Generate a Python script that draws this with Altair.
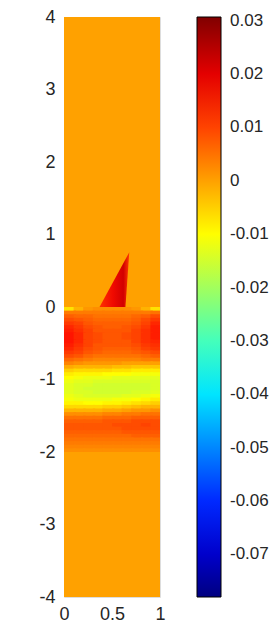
import altair as alt
import pandas as pd

# ---- data ----
# field values (units of 1e-3) on a 10-column grid (x = 0..1, step 0.1),
# rows from y = 0 down to y = -2 (step 0.05)
field_rows = [
    [-7, -2, 1, 2, 2, 2, 2, 1, -2, -7],
    [4, 4, 4, 4, 4, 4, 4, 4, 4, 5],
    [7, 6, 6, 5, 5, 5, 5, 6, 7, 9],
    [9, 8, 7, 6, 6, 6, 6, 7, 9, 11],
    [11, 10, 8, 7, 7, 7, 7, 8, 10, 13],
    [13, 11, 9, 8, 7, 7, 8, 9, 11, 14],
    [14, 12, 10, 8, 8, 8, 8, 10, 12, 14],
    [15, 13, 10, 9, 8, 8, 9, 10, 12, 14],
    [15, 13, 10, 9, 8, 8, 9, 10, 12, 14],
    [15, 13, 10, 9, 8, 8, 8, 10, 12, 13],
    [14, 12, 10, 8, 8, 8, 8, 9, 11, 12],
    [13, 11, 9, 8, 7, 7, 7, 8, 10, 11],
    [11, 10, 8, 7, 6, 6, 6, 7, 8, 9],
    [9, 8, 6, 5, 5, 5, 5, 5, 6, 7],
    [6, 5, 4, 3, 3, 3, 3, 3, 4, 4],
    [3, 2, 1, 1, 1, 1, 0, 0, 0, 0],
    [-1, -2, -2, -2, -2, -3, -3, -4, -4, -4],
    [-5, -6, -6, -6, -6, -7, -7, -8, -8, -8],
    [-8, -9, -9, -9, -10, -10, -10, -11, -11, -11],
    [-10, -11, -12, -12, -12, -13, -13, -13, -13, -13],
    [-12, -13, -13, -14, -14, -14, -14, -14, -14, -14],
    [-13, -14, -14, -15, -15, -15, -15, -15, -15, -14],
    [-13, -14, -15, -15, -15, -15, -15, -15, -15, -14],
    [-13, -14, -14, -15, -15, -15, -15, -14, -14, -13],
    [-12, -13, -14, -14, -14, -14, -13, -13, -12, -11],
    [-11, -12, -12, -12, -12, -11, -11, -10, -9, -8],
    [-9, -9, -10, -10, -9, -9, -8, -7, -6, -5],
    [-6, -6, -6, -6, -5, -5, -4, -3, -2, -2],
    [-2, -2, -2, -2, -1, -1, 0, 1, 1, 2],
    [2, 2, 2, 2, 3, 3, 4, 4, 5, 5],
    [5, 5, 5, 5, 6, 6, 6, 7, 7, 7],
    [7, 7, 7, 7, 8, 8, 8, 9, 9, 9],
    [8, 8, 8, 8, 8, 9, 9, 9, 10, 9],
    [8, 8, 8, 8, 8, 8, 9, 9, 9, 9],
    [7, 7, 7, 7, 7, 7, 8, 8, 8, 8],
    [6, 6, 6, 6, 6, 6, 6, 7, 7, 7],
    [5, 5, 5, 5, 5, 5, 5, 5, 5, 5],
    [4, 4, 4, 4, 4, 4, 4, 4, 4, 4],
    [3, 3, 3, 3, 3, 3, 3, 3, 3, 3],
    [2, 2, 2, 2, 2, 2, 2, 2, 2, 2],
]
background_value = 0.0

# triangular spike above y = 0
spike_y = [0.0, 0.755]
spike_left = [0.37, 0.68]
spike_right = [0.64, 0.68]

# colour bar
cbar_min = -0.078
cbar_max = 0.0307
cbar_ticks = [0.03, 0.02, 0.01, 0.0, -0.01, -0.02, -0.03, -0.04, -0.05, -0.06, -0.07]
y_ticks = [4, 3, 2, 1, 0, -1, -2, -3, -4]
x_ticks = [0, 0.5, 1]

jet_colors = ["#000080", "#0000ff", "#00ffff", "#ffff00", "#ff0000", "#800000"]
jet_pos = [0.0, 0.125, 0.375, 0.625, 0.875, 1.0]

# ---- build tables ----
ncol = len(field_rows[0])
nrow = len(field_rows)
dx = 1.0 / ncol
dy = 2.0 / nrow
ov = 0.25  # overlap fraction so neighbouring cells leave no seams
cells = []
for i, row in enumerate(field_rows):
    for j, v in enumerate(row):
        x2 = min(1.0, (j + 1 + ov) * dx)
        y2 = max(-2.0, -(i + 1 + ov) * dy)
        cells.append(dict(x=j * dx, x2=x2, y=-i * dy, y2=y2, v=v / 1000.0))
cells_df = pd.DataFrame(cells)
bg_df = pd.DataFrame([dict(x=0.0, x2=1.0, y=4.0, y2=-4.0, v=background_value)])
spike_df = pd.DataFrame(dict(sy=spike_y, sl=spike_left, sr=spike_right))

domain = [cbar_min + p * (cbar_max - cbar_min) for p in jet_pos]
cscale = alt.Scale(domain=domain, range=jet_colors, interpolate="rgb", clamp=True)

FONT = "Liberation Sans"
TXT = "#262626"
PLOT_H = 580

xenc = alt.X("x:Q", scale=alt.Scale(domain=[0, 1], nice=False, zero=False),
             axis=alt.Axis(values=x_ticks, labelExpr="datum.value + ''", title=None,
                           ticks=False, domain=False, grid=False, labelPadding=8,
                           labelFontSize=18, labelColor=TXT, labelFont=FONT,
                           labelFlush=False))
yenc = alt.Y("y:Q", scale=alt.Scale(domain=[-4, 4], nice=False, zero=False),
             axis=alt.Axis(values=y_ticks, labelExpr="datum.value + ''", title=None,
                           ticks=False, domain=False, grid=False, labelPadding=9,
                           labelFontSize=18, labelColor=TXT, labelFont=FONT))

legend = alt.Legend(type="gradient", title=None, values=cbar_ticks,
                    labelExpr="datum.value + ''",
                    gradientLength=PLOT_H, gradientThickness=24,
                    gradientStrokeColor="black", gradientStrokeWidth=1,
                    labelFontSize=17, labelColor=TXT, labelFont=FONT,
                    labelOffset=9, labelOverlap=False, offset=37, padding=0,
                    direction="vertical", orient="right")

bg = alt.Chart(bg_df).mark_rect(strokeWidth=0).encode(
    x=xenc, x2="x2:Q", y=yenc, y2="y2:Q",
    color=alt.Color("v:Q", scale=cscale, legend=legend),
)

cells_layer = alt.Chart(cells_df).mark_rect(strokeWidth=0).encode(
    x="x:Q", x2="x2:Q", y="y:Q", y2="y2:Q",
    color=alt.Color("v:Q", scale=cscale, legend=legend),
)

spike_grad = alt.Gradient(
    gradient="linear", x1=0, x2=1, y1=0, y2=0,
    stops=[alt.GradientStop(color="#ff3000", offset=0),
           alt.GradientStop(color="#f00a00", offset=0.45),
           alt.GradientStop(color="#d20000", offset=0.8),
           alt.GradientStop(color="#ff3a00", offset=1)])
spike = alt.Chart(spike_df).mark_area(orient="horizontal", color=spike_grad).encode(
    y=alt.Y("sy:Q"), x=alt.X("sl:Q"), x2="sr:Q",
)

chart = alt.layer(bg, cells_layer, spike).properties(
    width=96, height=PLOT_H,
    autosize=alt.AutoSizeParams(type="none"),
    padding={"left": 56, "top": 9, "right": 112, "bottom": 25},
).configure_view(strokeWidth=0).configure(background="white")

chart.save("out.html", embed_options={"renderer": "svg", "actions": False})
